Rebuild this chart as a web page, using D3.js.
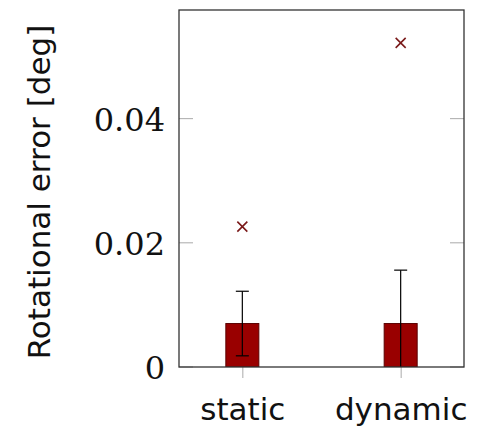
<!DOCTYPE html>
<html><head><meta charset="utf-8">
<script src="https://cdn.jsdelivr.net/npm/d3@7"></script>
<style>body{margin:0;background:#fff}svg{display:block}</style>
</head><body><svg id="c" width="477" height="427"></svg>
<script>
const categories = ["static", "dynamic"];
const means = [0.0070, 0.0070];
const errors = [0.0052, 0.0086];
const maxima = [0.0226, 0.0522];
const yTicks = [0, 0.02, 0.04];
const yTickLabels = ["0", "0.02", "0.04"];
const yLabel = "Rotational error [deg]";

const svg = d3.select("#c");
const L = 179, R = 464, T = 10, B = 367;
const x = d3.scaleLinear().domain([-0.4, 1.4]).range([L, R]);
const y = d3.scaleLinear().domain([0, 0.0575]).range([B, T]);
const barW = 33;
const capW = 6.5;

svg.append("defs").append("clipPath").attr("id","pc")
  .append("rect").attr("x",L).attr("y",T).attr("width",R-L).attr("height",B-T);

// y ticks inside left and right
const tickG = svg.append("g");
yTicks.forEach(t => {
  tickG.append("line").attr("x1",L).attr("x2",L+14).attr("y1",y(t)).attr("y2",y(t)).attr("stroke","#aaa").attr("stroke-width",1);
  tickG.append("line").attr("x1",R-14).attr("x2",R).attr("y1",y(t)).attr("y2",y(t)).attr("stroke","#aaa").attr("stroke-width",1);
});
// y tick labels via axis
const ya = svg.append("g").attr("transform",`translate(${L},0)`)
  .call(d3.axisLeft(y).tickValues(yTicks).tickFormat((d,i)=>yTickLabels[i]).tickSize(0).tickPadding(14));
ya.select(".domain").remove();
ya.selectAll("text").attr("font-family","DejaVu Serif, serif").attr("font-size",32).attr("fill","#111").attr("dy","0.36em");

// x ticks
const xa = svg.append("g").attr("transform",`translate(0,${B})`)
  .call(d3.axisBottom(x).tickValues([0,1]).tickFormat((d)=>categories[d]).tickSize(11));
xa.select(".domain").remove();
xa.selectAll("line").attr("stroke","#aaa");
xa.selectAll("text").attr("font-family","DejaVu Sans, sans-serif").attr("font-size",31).attr("fill","#111").attr("y",53).attr("dy",0);

const plot = svg.append("g").attr("clip-path","url(#pc)");
// bars
plot.selectAll("rect.bar").data(means).join("rect").attr("class","bar")
  .attr("x",(d,i)=>x(i)-barW/2).attr("width",barW)
  .attr("y",d=>y(d)).attr("height",d=>y(0)-y(d))
  .attr("fill","#990000").attr("stroke","#5a0000").attr("stroke-width",1);
// error bars
const eb = plot.selectAll("g.eb").data(means).join("g").attr("class","eb");
eb.append("line").attr("x1",(d,i)=>x(i)).attr("x2",(d,i)=>x(i))
  .attr("y1",(d,i)=>y(d+errors[i])).attr("y2",(d,i)=>y(d-errors[i])).attr("stroke","#000").attr("stroke-width",1.2);
eb.append("line").attr("x1",(d,i)=>x(i)-capW).attr("x2",(d,i)=>x(i)+capW)
  .attr("y1",(d,i)=>y(d+errors[i])).attr("y2",(d,i)=>y(d+errors[i])).attr("stroke","#000").attr("stroke-width",1.2);
eb.append("line").attr("x1",(d,i)=>x(i)-capW).attr("x2",(d,i)=>x(i)+capW)
  .attr("y1",(d,i)=>y(d-errors[i])).attr("y2",(d,i)=>y(d-errors[i])).attr("stroke","#000").attr("stroke-width",1.2);
// max crosses
const s = 5;
plot.selectAll("path.mx").data(maxima).join("path").attr("class","mx")
  .attr("d",(d,i)=>{const cx=x(i), cy=y(d); return `M${cx-s},${cy-s}L${cx+s},${cy+s}M${cx-s},${cy+s}L${cx+s},${cy-s}`;})
  .attr("stroke","#7a1a1a").attr("stroke-width",1.6).attr("fill","none");

// frame
svg.append("rect").attr("x",L).attr("y",T).attr("width",R-L).attr("height",B-T)
  .attr("fill","none").attr("stroke","#333").attr("stroke-width",1.3);

// y label
svg.append("text").attr("transform",`translate(50,192) rotate(-90)`)
  .attr("text-anchor","middle").attr("font-family","DejaVu Sans, sans-serif").attr("font-size",31).attr("fill","#111")
  .text(yLabel);
</script></body></html>
